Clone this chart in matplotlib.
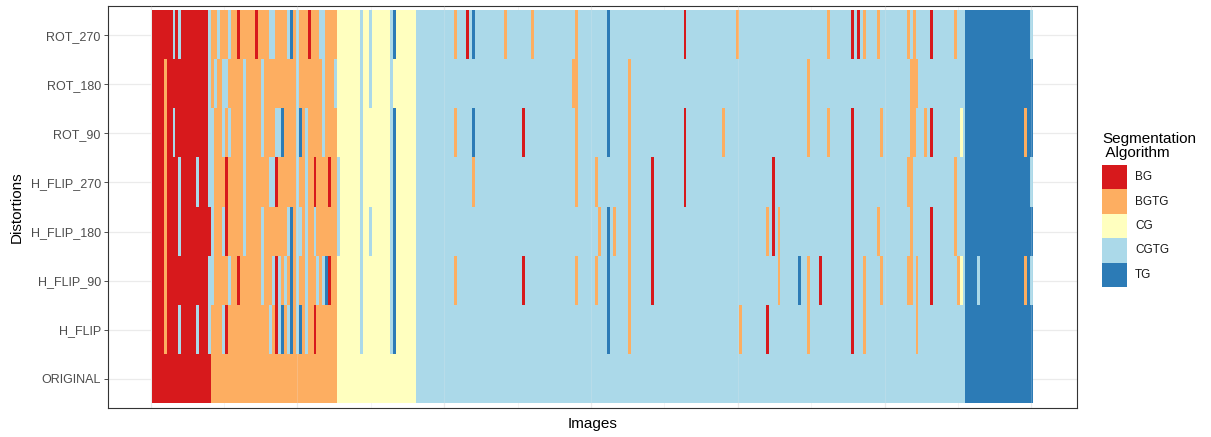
import matplotlib
matplotlib.use('Agg')
import matplotlib.pyplot as plt
import numpy as np
from matplotlib.colors import ListedColormap
from matplotlib.patches import Rectangle

plt.rcParams['font.family'] = ['Liberation Sans', 'DejaVu Sans']

# ---------------- data ----------------
algorithms = ['BG', 'BGTG', 'CG', 'CGTG', 'TG']
algo_colors = ['#D7191C', '#FDAE61', '#FFFFBF', '#ABD9E9', '#2C7BB6']
distortions = ['ORIGINAL', 'H_FLIP', 'H_FLIP_90', 'H_FLIP_180',
               'H_FLIP_270', 'ROT_90', 'ROT_180', 'ROT_270']
n_images = 300

# ORIGINAL row: (algorithm, first image, last image)
original_blocks = [('BG', 1, 20), ('BGTG', 21, 63), ('CG', 64, 90),
                   ('CGTG', 91, 277), ('TG', 278, 300)]

# images whose algorithm differs from ORIGINAL, per distortion
h_flip = {'BG': [26, 43, 56, 210, 239],
          'BGTG': [5, 163, 201, 224, 243, 261],
          'CGTG': [10, 16, 20, 25, 41, 44, 47, 50, 53, 72, 82],
          'TG': [45, 48, 51, 83, 156]}
h_flip_90 = {'BG': [30, 43, 61, 127, 171, 228, 239, 266],
             'BGTG': [5, 104, 145, 152, 163, 214, 224, 243, 249, 258, 259, 261, 275, 298],
             'CG': [276],
             'CGTG': [20, 21, 27, 38, 42, 44, 46, 50, 53, 57, 59, 72, 82, 282, 300],
             'TG': [48, 60, 83, 156, 221]}
h_flip_180 = {'BG': [26, 171, 212, 239, 266],
              'BGTG': [5, 153, 158, 163, 210, 214, 248, 259, 274],
              'CGTG': [10, 21, 25, 32, 38, 47, 50, 51, 53, 56, 64, 72, 75, 82],
              'TG': [48, 83, 156]}
h_flip_270 = {'BG': [26, 43, 56, 61, 171, 182, 212, 239],
              'BGTG': [5, 110, 145, 152, 163, 258, 259, 274],
              'CGTG': [10, 16, 20, 21, 32, 41, 42, 50, 53, 64, 72, 82, 300],
              'TG': [83]}
rot_90 = {'BG': [127, 182, 239, 266],
          'BGTG': [5, 104, 145, 163, 195, 224, 231, 249, 259, 260, 264, 298],
          'CG': [276],
          'CGTG': [8, 20, 21, 25, 27, 32, 38, 43, 44, 50, 53, 59, 72, 82],
          'TG': [45, 51, 83, 110, 156]}
rot_180 = {'BGTG': [5, 144, 145, 163, 224, 259, 260, 261],
           'CGTG': [20, 22, 25, 26, 32, 38, 50, 59, 63, 72, 75, 82],
           'TG': [156]}
rot_270 = {'BG': [30, 36, 54, 108, 182, 239, 241, 266],
           'BGTG': [104, 121, 130, 145, 200, 231, 243, 248, 258, 260, 274],
           'CGTG': [8, 10, 20, 23, 27, 41, 42, 47, 50, 58, 59, 72, 75, 82, 300],
           'TG': [48, 83, 110, 156]}
changes = {'ORIGINAL': {}, 'H_FLIP': h_flip, 'H_FLIP_90': h_flip_90,
           'H_FLIP_180': h_flip_180, 'H_FLIP_270': h_flip_270,
           'ROT_90': rot_90, 'ROT_180': rot_180, 'ROT_270': rot_270}

# ---------------- build matrix ----------------
base = np.zeros(n_images, dtype=int)
for algo, a, b in original_blocks:
    base[a - 1:b] = algorithms.index(algo)
grid = np.zeros((len(distortions), n_images), dtype=int)
for r, d in enumerate(distortions):
    row = base.copy()
    for algo, imgs in changes[d].items():
        for i in imgs:
            row[i - 1] = algorithms.index(algo)
    grid[r] = row

# ---------------- figure ----------------
W, H = 1211, 437
fig = plt.figure(figsize=(W / 100, H / 100), dpi=100)
pl, pr, pt, pb = 108, 1077, 6, 408
ax = fig.add_axes([pl / W, 1 - pb / H, (pr - pl) / W, (pb - pt) / H])
ax.set_facecolor('white')

cmap = ListedColormap(algo_colors)
ax.imshow(grid, cmap=cmap, vmin=-0.5, vmax=4.5, aspect='auto',
          interpolation='nearest', origin='lower',
          extent=(0.5, n_images + 0.5, 0.5, len(distortions) + 0.5), zorder=2)

xr = n_images
ax.set_xlim(0.5 - 0.05 * xr, n_images + 0.5 + 0.05 * xr)
ax.set_ylim(0.4, len(distortions) + 0.6)

# grid lines (theme_bw)
for xv in range(0, 301, 50):
    ax.axvline(xv, color='#EBEBEB', lw=0.9, zorder=1)
    ax.axvline(xv, color='#EBEBEB', lw=0.6, alpha=0.25, zorder=3)
for xv in range(25, 300, 50):
    ax.axvline(xv, color='#F2F2F2', lw=0.5, zorder=1)
for yv in range(1, len(distortions) + 1):
    ax.axhline(yv, color='#EBEBEB', lw=0.9, zorder=1)

ax.set_yticks(range(1, len(distortions) + 1))
ax.set_yticklabels(distortions, fontsize=9, color='#4D4D4D')
ax.set_xticks([])
ax.tick_params(axis='y', length=3.2, width=0.6, color='#333333', pad=2)
for s in ax.spines.values():
    s.set_color('#333333')
    s.set_linewidth(0.8)

fig.text(592.5 / W, 1 - 424 / H, 'Images', ha='center', va='center', fontsize=11)
fig.text(17 / W, 1 - 207 / H, 'Distortions', ha='center', va='center',
         rotation=90, fontsize=11)

# legend
fig.text(1102 / W, 1 - 139 / H, 'Segmentation', ha='left', va='center', fontsize=11)
fig.text(1102 / W, 1 - 153 / H, ' Algorithm', ha='left', va='center', fontsize=11)
key_top, key_h = 165, 24.4
for k, (algo, col) in enumerate(zip(algorithms, algo_colors)):
    y0 = key_top + k * key_h
    fig.patches.append(Rectangle((1102 / W, 1 - (y0 + key_h) / H), 25 / W, key_h / H,
                                 transform=fig.transFigure, facecolor=col,
                                 edgecolor='none'))
    fig.text(1135 / W, 1 - (y0 + key_h / 2) / H, algo, ha='left', va='center',
             fontsize=8.5, color='#1A1A1A')

fig.savefig('out.png', dpi=100)
